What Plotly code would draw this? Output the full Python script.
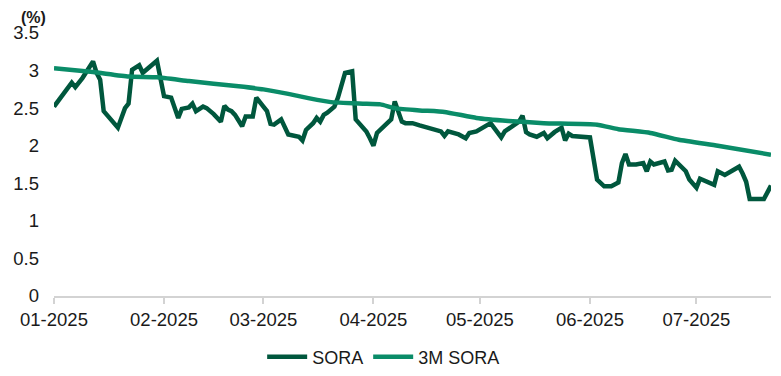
import plotly.graph_objects as go

# SORA (daily)
sora_dates = [
    "2025-01-01", "2025-01-06", "2025-01-07", "2025-01-09", "2025-01-12", "2025-01-13",
    "2025-01-14", "2025-01-15", "2025-01-19", "2025-01-21", "2025-01-22", "2025-01-23",
    "2025-01-25", "2025-01-26", "2025-01-30", "2025-02-01", "2025-02-03", "2025-02-05",
    "2025-02-06", "2025-02-08", "2025-02-09", "2025-02-10", "2025-02-12", "2025-02-13",
    "2025-02-15", "2025-02-17", "2025-02-18", "2025-02-19", "2025-02-20", "2025-02-21",
    "2025-02-23", "2025-02-24", "2025-02-26", "2025-02-27", "2025-03-01", "2025-03-02",
    "2025-03-03", "2025-03-04", "2025-03-06", "2025-03-08", "2025-03-11", "2025-03-12",
    "2025-03-13", "2025-03-15", "2025-03-16", "2025-03-17", "2025-03-18", "2025-03-19",
    "2025-03-21", "2025-03-22", "2025-03-24", "2025-03-26", "2025-03-27", "2025-03-30",
    "2025-03-31", "2025-04-01", "2025-04-02", "2025-04-05", "2025-04-06", "2025-04-07",
    "2025-04-08", "2025-04-09", "2025-04-10", "2025-04-12", "2025-04-14", "2025-04-16",
    "2025-04-20", "2025-04-21", "2025-04-22", "2025-04-25", "2025-04-27", "2025-04-28",
    "2025-04-30", "2025-05-04", "2025-05-05", "2025-05-07", "2025-05-08", "2025-05-11",
    "2025-05-12", "2025-05-13", "2025-05-14", "2025-05-15", "2025-05-17", "2025-05-19",
    "2025-05-20", "2025-05-22", "2025-05-24", "2025-05-25", "2025-05-26", "2025-05-27",
    "2025-05-30", "2025-06-01", "2025-06-03", "2025-06-05", "2025-06-07", "2025-06-09",
    "2025-06-10", "2025-06-11", "2025-06-12", "2025-06-14", "2025-06-16", "2025-06-17",
    "2025-06-18", "2025-06-19", "2025-06-22", "2025-06-23", "2025-06-24", "2025-06-25",
    "2025-06-28", "2025-06-29", "2025-07-01", "2025-07-02", "2025-07-06", "2025-07-07",
    "2025-07-09", "2025-07-13", "2025-07-14", "2025-07-15", "2025-07-16", "2025-07-20",
    "2025-07-22",
]
sora_values = [
    2.52, 2.84, 2.78, 2.90, 3.12, 2.97,
    2.88, 2.46, 2.24, 2.50, 2.56, 3.01,
    3.07, 2.97, 3.13, 2.66, 2.64, 2.37,
    2.49, 2.51, 2.56, 2.46, 2.52, 2.50,
    2.42, 2.32, 2.53, 2.48, 2.46, 2.41,
    2.26, 2.39, 2.39, 2.64, 2.52, 2.46,
    2.29, 2.28, 2.35, 2.15, 2.12, 2.07,
    2.21, 2.30, 2.37, 2.32, 2.41, 2.44,
    2.52, 2.64, 2.97, 2.99, 2.35, 2.19,
    2.10, 2.00, 2.17, 2.30, 2.35, 2.59,
    2.44, 2.32, 2.30, 2.30, 2.27, 2.24,
    2.19, 2.13, 2.19, 2.15, 2.10, 2.17,
    2.19, 2.30, 2.24, 2.11, 2.19, 2.28,
    2.32, 2.40, 2.18, 2.15, 2.12, 2.17,
    2.10, 2.18, 2.24, 2.07, 2.16, 2.13,
    2.12, 2.11, 1.55, 1.46, 1.46, 1.51,
    1.77, 1.89, 1.75, 1.75, 1.77, 1.66,
    1.79, 1.75, 1.79, 1.67, 1.68, 1.80,
    1.66, 1.55, 1.44, 1.56, 1.48, 1.66,
    1.61, 1.72, 1.63, 1.52, 1.29, 1.29,
    1.47,
]

# 3M SORA
m3_dates = [
    "2025-01-01", "2025-01-12", "2025-01-22", "2025-01-30", "2025-02-08", "2025-02-22",
    "2025-03-01", "2025-03-08", "2025-03-14", "2025-03-20", "2025-03-29", "2025-04-03",
    "2025-04-07", "2025-04-14", "2025-04-21", "2025-04-30", "2025-05-09", "2025-05-19",
    "2025-06-03", "2025-06-09", "2025-06-18", "2025-06-26", "2025-07-07", "2025-07-22",
]
m3_values = [
    3.03, 2.98, 2.92, 2.91, 2.86, 2.79,
    2.75, 2.69, 2.63, 2.58, 2.56, 2.55,
    2.50, 2.47, 2.45, 2.37, 2.33, 2.30,
    2.28, 2.22, 2.17, 2.08, 2.00, 1.88,
]

x_tickvals = ["2025-01-01", "2025-02-01", "2025-03-01", "2025-04-01",
              "2025-05-01", "2025-06-01", "2025-07-01"]
x_ticktext = ["01-2025", "02-2025", "03-2025", "04-2025", "05-2025", "06-2025", "07-2025"]
y_tickvals = [0, 0.5, 1, 1.5, 2, 2.5, 3, 3.5]
y_ticktext = ["0", "0.5", "1", "1.5", "2", "2.5", "3", "3.5"]

FONT = "Liberation Sans, Arial, sans-serif"

fig = go.Figure()
fig.add_trace(go.Scatter(x=sora_dates, y=sora_values, name="SORA", mode="lines",
                         line=dict(color="#00573D", width=4.5)))
fig.add_trace(go.Scatter(x=m3_dates, y=m3_values, name="3M SORA", mode="lines",
                         line=dict(color="#0A8C68", width=4.5, shape="spline", smoothing=0.4)))

fig.update_layout(
    width=781, height=376,
    margin=dict(l=46, r=18, t=25, b=88),
    paper_bgcolor="white", plot_bgcolor="white",
    font=dict(family=FONT, size=18, color="#1a1a1a"),
    showlegend=True,
    legend=dict(orientation="h", x=0.481, xanchor="center", xref="container",
                y=0.072, yanchor="middle", yref="container",
                font=dict(size=18), itemwidth=40, tracegroupgap=0,
                bgcolor="rgba(0,0,0,0)"),
    xaxis=dict(
        type="date", range=["2025-01-01", "2025-07-22"],
        tickvals=x_tickvals, ticktext=x_ticktext,
        showgrid=False, zeroline=False, automargin=False,
        showline=True, linecolor="#D3D3D3", linewidth=2,
        ticks="outside", ticklen=6, tickwidth=2, tickcolor="#D3D3D3",
        tickfont=dict(size=18.5),
    ),
    yaxis=dict(
        range=[0, 3.5], tickvals=y_tickvals, ticktext=y_ticktext,
        showgrid=False, zeroline=False, showline=False, automargin=False,
        ticks="", ticklabelstandoff=14,
        tickfont=dict(size=18.5),
    ),
    annotations=[dict(text="<b>(%)</b>", xref="paper", yref="paper", x=-0.047, y=1.0,
                      xanchor="left", yanchor="top", yshift=25, showarrow=False,
                      borderpad=0,
                      font=dict(size=16, color="#1a1a1a"))],
)

fig.write_html("out.html")
